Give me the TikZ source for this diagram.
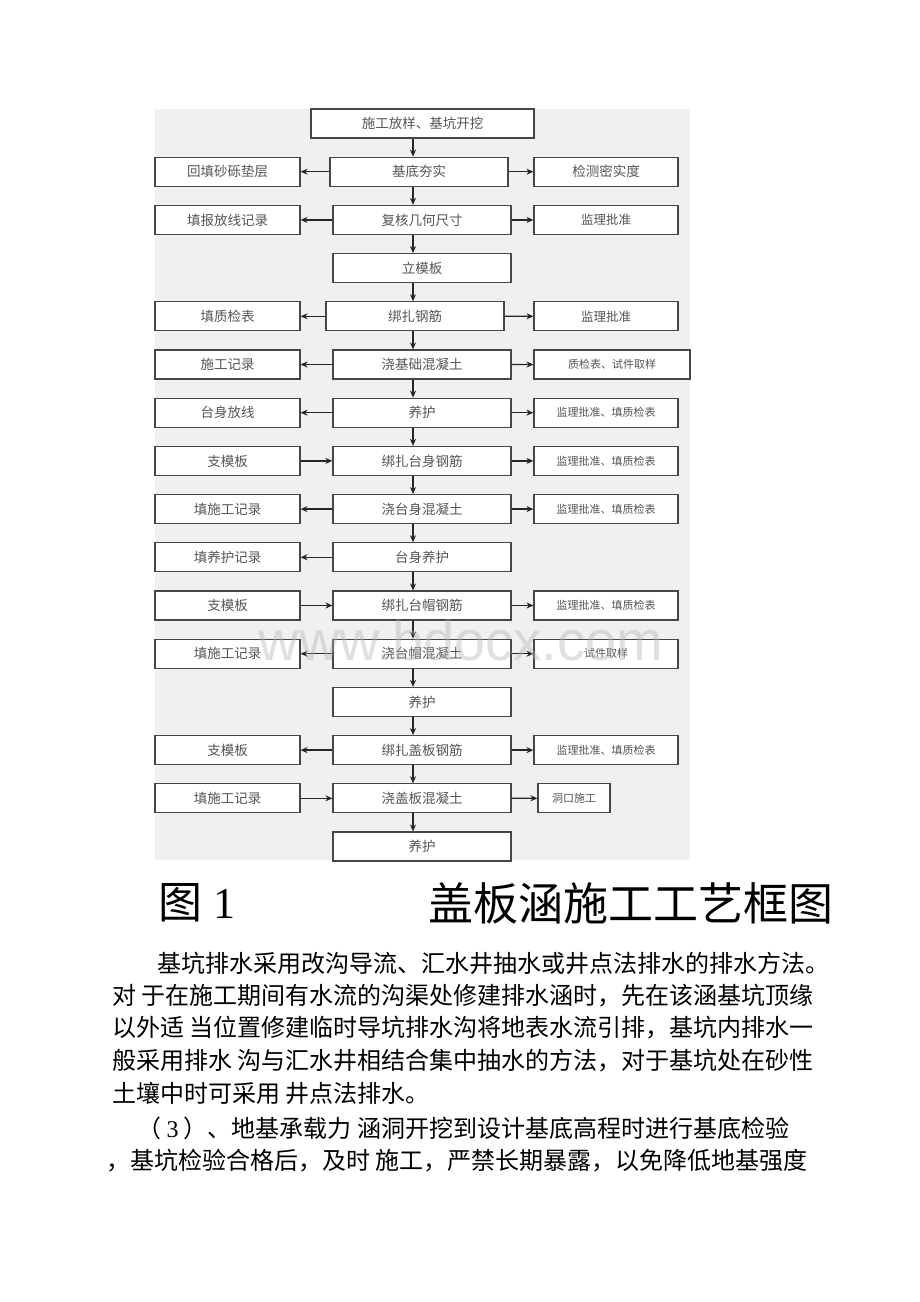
\documentclass[tikz,border=0pt]{standalone}
\usepackage{fontspec}
\setmainfont{Liberation Serif}
\newfontfamily\cjk{Noto Sans CJK SC}
\newfontfamily\wmfont{Liberation Sans}
\usetikzlibrary{arrows.meta}
\definecolor{panelgray}{RGB}{240,240,240}
\definecolor{boxline}{RGB}{70,70,70}
\definecolor{boxtext}{RGB}{85,85,85}

\begin{document}
\begin{tikzpicture}[x=1pt, y=-1pt,
    stepbox/.style={draw=boxline, fill=white, line width=1.1pt, inner sep=0pt,
        minimum height=29pt, text=boxtext, font=\cjk\fontsize{13.5}{16}\selectfont},
    mainbox/.style={stepbox, minimum width=178pt},
    sidebox/.style={stepbox, minimum width=145pt},
    notebox/.style={stepbox, minimum width=144pt, font=\cjk\fontsize{11}{13}\selectfont},
    arr/.style={-{Stealth[length=7pt,width=6pt]}, line width=1.3pt, draw=black!85},
    bodytext/.style={anchor=west, inner sep=0pt, font=\cjk\fontsize{24}{28}\selectfont}]

        \useasboundingbox (0,0) rectangle (920,1302);
        \fill[white] (0,0) rectangle (920,1302);
        \fill[panelgray] (155,109) rectangle (690,860);

        % centre column
        \node[stepbox, minimum width=223pt] (c1) at (422.5,123.5) {施工放样、基坑开挖};
        \foreach \i/\x/\t in {2/419/基底夯实, 3/422/复核几何尺寸, 4/422/立模板, 5/415/绑扎钢筋,
                6/422/浇基础混凝土, 7/422/养护, 8/422/绑扎台身钢筋, 9/422/浇台身混凝土,
                10/422/台身养护, 11/422/绑扎台帽钢筋, 12/422/浇台帽混凝土, 13/422/养护,
                14/422/绑扎盖板钢筋, 15/422/浇盖板混凝土, 16/422/养护} {
            \pgfmathsetmacro\yy{123.5+48.2*(\i-1)}
            \node[mainbox] (c\i) at (\x,\yy) {\t};
        }
        \coordinate (spine) at (413,0);

        % left column
        \foreach \i/\t in {2/回填砂砾垫层, 3/填报放线记录, 5/填质检表, 6/施工记录, 7/台身放线,
                8/支模板, 9/填施工记录, 10/填养护记录, 11/支模板, 12/填施工记录,
                14/支模板, 15/填施工记录} {
            \pgfmathsetmacro\yy{123.5+48.2*(\i-1)}
            \node[sidebox] (l\i) at (227.5,\yy) {\t};
        }

        % right column
        \foreach \i/\t in {7/监理批准、填质检表, 8/监理批准、填质检表, 9/监理批准、填质检表,
                11/监理批准、填质检表, 12/试件取样, 14/监理批准、填质检表} {
            \pgfmathsetmacro\yy{123.5+48.2*(\i-1)}
            \node[notebox] (r\i) at (606,\yy) {\t};
        }
        \node[notebox, font=\cjk\fontsize{13.5}{16}\selectfont] (r2) at (606,171.7) {检测密实度};
        \node[notebox, font=\cjk\fontsize{12.5}{15}\selectfont] (r3) at (606,219.9) {监理批准};
        \node[notebox, font=\cjk\fontsize{12.5}{15}\selectfont] (r5) at (606,316.3) {监理批准};
        \node[notebox, minimum width=156pt] (r6) at (612,364.5) {质检表、试件取样};
        \node[notebox, minimum width=72pt] (r15) at (574,798.3) {洞口施工};

        % arrows
        \foreach \a [evaluate=\a as \b using int(\a+1)] in {1,...,15}
            \draw[arr] (c\a.south -| spine) -- (c\b.north -| spine);
        \foreach \i in {2,3,5,6,7,9,10,12,14}
            \draw[arr] (c\i.west) -- (l\i.east);
        \foreach \i in {8,11,15}
            \draw[arr] (l\i.east) -- (c\i.west);
        \foreach \i in {2,3,5,6,7,8,9,11,12,14,15}
            \draw[arr] (c\i.east) -- (r\i.west);

        % watermark
        \node[text=black!30, text opacity=0.4, inner sep=0pt,
            font=\wmfont\fontsize{56}{56}\selectfont] (mark) at (461,640) {www.bdocx.com};

        % caption and body text
        \node[anchor=west, inner sep=0pt, font=\fontsize{44}{48}\selectfont] (fig) at (158,903) {{\cjk 图} 1};
        \node[anchor=west, inner sep=0pt, font=\cjk\fontsize{45}{48}\selectfont] (title) at (428,903) {盖板涵施工工艺框图};

        \node[bodytext] (p1) at (157,963) {基坑排水采用改沟导流、汇水井抽水或井点法排水的排水方法。};
        \node[bodytext] (p2) at (112,996) {对 于在施工期间有水流的沟渠处修建排水涵时，先在该涵基坑顶缘};
        \node[bodytext] (p3) at (112,1028) {以外适 当位置修建临时导坑排水沟将地表水流引排，基坑内排水一};
        \node[bodytext] (p4) at (112,1061) {般采用排水 沟与汇水井相结合集中抽水的方法，对于基坑处在砂性};
        \node[bodytext] (p5) at (112,1093) {土壤中时可采用 井点法排水。};
        \node[bodytext] (p6) at (137,1128) {（ {\rmfamily 3} ）、地基承载力 涵洞开挖到设计基底高程时进行基底检验};
        \node[bodytext] (p7) at (106,1161) {，基坑检验合格后，及时 施工，严禁长期暴露，以免降低地基强度};
    \end{tikzpicture}
\end{document}
